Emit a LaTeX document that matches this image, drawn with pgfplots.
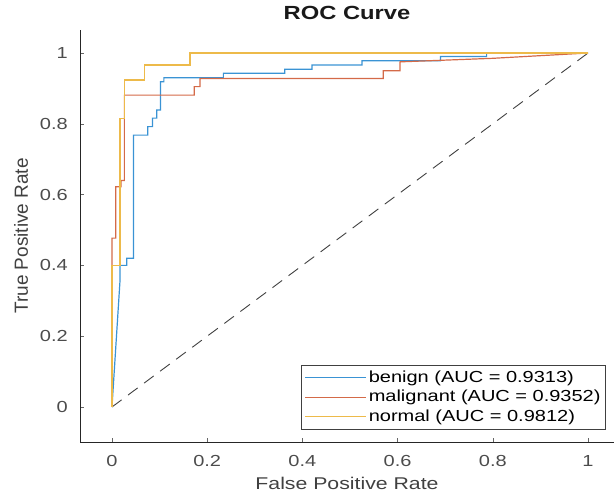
\documentclass[border=0pt]{standalone}
\usepackage{fontspec}
\setmainfont{Liberation Sans}[FakeStretch=1.25]
\newfontfamily\plainsans{Liberation Sans}
\usepackage{pgfplots}
\pgfplotsset{compat=1.18}
\definecolor{mlblue}{HTML}{3A93D4}
\definecolor{mlred}{HTML}{D46A48}
\definecolor{mlyellow}{HTML}{EDBA4A}

\begin{document}
\begin{tikzpicture}
\useasboundingbox (0,0) rectangle (614bp,496bp);
\begin{axis}[
  at={(80bp,54bp)}, anchor=south west,
  scale only axis, width=534bp, height=412bp,
  xmin=-0.0672, xmax=1.0546, ymin=-0.0989, ymax=1.065,
  axis x line*=bottom, axis y line*=left,
  axis line style={-, black!85, line width=0.9bp},
  xtick={0,0.2,0.4,0.6,0.8,1}, ytick={0,0.2,0.4,0.6,0.8,1},
  xticklabels={0,0.2,0.4,0.6,0.8,1}, yticklabels={0,0.2,0.4,0.6,0.8,1},
  tick align=inside, major tick length=4bp,
  tick style={black!60, line width=0.6bp},
  /pgf/number format/assume math mode=true,
  ticklabel style={font=\fontsize{16bp}{19bp}\selectfont, text=black!70},
  xticklabel style={anchor=base, inner sep=0pt, yshift=-25bp},
  yticklabel style={anchor=east, inner sep=0pt, xshift=-12bp},
  title={ROC Curve},
  title style={font=\bfseries\fontsize{19bp}{22bp}\selectfont, text=black!90,
    at={(axis description cs:0.5,1)}, anchor=base, yshift=5bp},
  xlabel={False Positive Rate},
  xlabel style={font=\fontsize{17bp}{20bp}\selectfont, text=black!75,
    at={(axis description cs:0.5,0)}, anchor=base, yshift=-47bp},
  ylabel={True Positive Rate},
  ylabel style={font=\plainsans\fontsize{19bp}{22bp}\selectfont, text=black!75,
    at={(axis description cs:0,0.5)}, anchor=base, yshift=52bp},
  legend style={at={(0.985,0.029)}, anchor=south east,
    draw=black!75, line width=0.9bp, fill=white, inner sep=3bp,
    font=\fontsize{16bp}{19bp}\selectfont,
    nodes={inner ysep=2bp, text height=12bp, text depth=3.5bp}},
  legend cell align=left,
  legend image code/.code={\draw[#1, line width=1.2bp] (4bp,0bp) -- (65bp,0bp);},
  every axis plot/.append style={line width=1.2bp},
]
\addplot[black!75, dash pattern=on 12bp off 8bp, line width=0.9bp, forget plot]
  coordinates {(0,0) (1,1)};
\addplot[mlblue] coordinates {
  (0,0) (0.017,0.36) (0.017,0.40) (0.031,0.40) (0.031,0.42) (0.045,0.42)
  (0.045,0.768) (0.075,0.768) (0.075,0.792) (0.085,0.792) (0.085,0.816)
  (0.094,0.816) (0.094,0.839) (0.102,0.839) (0.102,0.919) (0.109,0.919)
  (0.109,0.930) (0.234,0.930) (0.234,0.943) (0.363,0.943) (0.363,0.954)
  (0.420,0.954) (0.420,0.966) (0.525,0.966) (0.525,0.978) (0.690,0.978)
  (0.690,0.990) (0.787,0.990) (0.787,1) (1,1)};
\addlegendentry{benign (AUC = 0.9313)\hspace{12bp}}
\addplot[mlred] coordinates {
  (0,0) (0,0.477) (0.008,0.477) (0.008,0.622) (0.019,0.622) (0.019,0.64)
  (0.026,0.64) (0.026,0.881) (0.173,0.881) (0.173,0.905) (0.185,0.905)
  (0.185,0.928) (0.570,0.928) (0.570,0.950) (0.605,0.950) (0.605,0.975)
  (0.800,0.985) (1,1)};
\addlegendentry{malignant (AUC = 0.9352)}
\addplot[mlyellow] coordinates {
  (0,0) (0,0.40) (0.017,0.40) (0.017,0.816) (0.026,0.816) (0.026,0.924)
  (0.069,0.924) (0.069,0.966) (0.164,0.966) (0.164,1) (1,1)};
\addlegendentry{normal (AUC = 0.9812)}
\end{axis}
\end{tikzpicture}
\end{document}
